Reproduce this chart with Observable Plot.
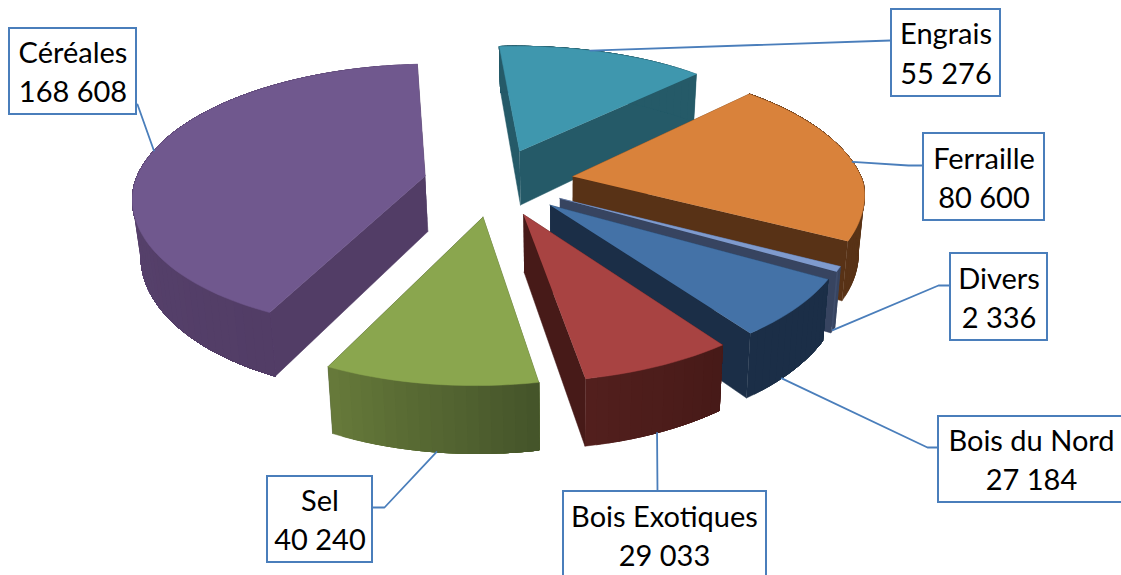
<!DOCTYPE html>
<html><head><meta charset="utf-8">
<style>html,body{margin:0;padding:0;background:#fff}svg{display:block}</style>
<script src="https://cdn.jsdelivr.net/npm/d3@7"></script>
<script src="https://cdn.jsdelivr.net/npm/@observablehq/plot@0.6"></script>
</head><body><div id="chart"></div>
<script>
// Data, clockwise from the top of the pie
const categories = ["Engrais","Ferraille","Divers","Bois du Nord","Bois Exotiques","Sel","Céréales"];
const tonnages   = [55276,80600,2336,27184,29033,40240,168608];
const valueLabels = ["55 276","80 600","2 336","27 184","29 033","40 240","168 608"];

// Styles per slice
const topColors  = ["#3f97ae","#d9823b","#7f9bce","#4472a7","#a84342","#8aa64e","#70588e"];
const cutColors  = ["#255a68","#583216","#374460","#1b2e47","#471a18","#46562a","#523d66"];
const wallFrom   = ["#255a68","#583216","#3f4d6b","#1b2e47","#521f1d","#66793a","#5e4876"];
const wallTo     = ["#255a68","#5c3417","#374460","#1b2e47","#471a18","#45552a","#523d66"];
const explodeBy  = [0.255,0.275,0.255,0.255,0.255,0.255,0.245];

// Label boxes: [x1,x2,y1,y2], line centres, box edge / elbow of each leader, where it meets the slice
const boxes = [[891,1000,9,96],[923,1044,133,220],[950,1047,253,340],[938,1130,416,502],[563,766,491,590],[267,372,476,562],[9,136,28,114]];
const lineY = [[34,74],[159,198],[279,318],[441,480],[517,556],[501,540],[53,92]];
const leaderElbows = [[[890,40]],[[923,165],[908,165]],[[950,285],[938,285]],[[938,447],[927,447]],[[657,491]],[[372,507],[384,507]],[[137,104]]];
const leaderFrac = [0.44,0.53,0.5,0.62,0.5,0.48,0.505];
const leaderLevel = [0,0,1,1,1,1,0];

// Projection of the tilted pie
const cam = {x0:494,y0:181.5,rx:290,ry:134,perspX:0.16,perspNear:0.14,perspFar:0.18,depth:56,rot:-4,shearA:6,shearB:10,xc:560,hShrink:0.02};
const rad = d => d*Math.PI/180;
const project = (X,Z,h) => {
  const sx = 1/(1-cam.perspX*Z), sy = 1/(1-(Z<0?cam.perspFar:cam.perspNear)*Z);
  const shear = Math.max(Z,0)*(cam.shearA+cam.shearB*X);
  const x = cam.x0+cam.rx*X*sx-shear;
  return [cam.xc+(x-cam.xc)*(1-cam.hShrink*h), cam.y0+cam.ry*Z*sy+h*cam.depth*sy];
};
const pie = d3.pie().sort(null).startAngle(rad(cam.rot)).endAngle(rad(cam.rot)+2*Math.PI)(tonnages);
const slices = pie.map((p,i)=>{
  const mid=(p.startAngle+p.endAngle)/2;
  const cx=explodeBy[i]*Math.sin(mid), cz=-explodeBy[i]*Math.cos(mid);
  const at=(t,h)=>project(cx+Math.sin(t),cz-Math.cos(t),h);
  const apex=h=>project(cx,cz,h);
  return {i,a0:p.startAngle,a1:p.endAngle,at,apex};
});

const polys=[]; let pid=0;
const addPoly=(pts,color)=>{const id=pid++;pts.forEach(([x,y])=>polys.push({id,x,y,color}));};
const order=[0,6,1,2,3,4,5];
for(const k of order){
  const s=slices[k];
  addPoly([s.apex(0),s.at(s.a0,0),s.at(s.a0,1),s.apex(1)],cutColors[k]);
  addPoly([s.apex(0),s.at(s.a1,0),s.at(s.a1,1),s.apex(1)],cutColors[k]);
  const n=Math.max(2,Math.ceil((s.a1-s.a0)/rad(2)));
  const mix=d3.interpolateRgb(wallFrom[k],wallTo[k]);
  // each wall strip runs to the far end of the arc, the next one paints over it: no seams
  for(let j=0;j<n;j++){
    const strip=[];
    for(let m=j;m<=n;m++) strip.push(s.at(s.a1-(s.a1-s.a0)*m/n,0));
    for(let m=n;m>=j;m--) strip.push(s.at(s.a1-(s.a1-s.a0)*m/n,1));
    addPoly(strip,mix(j/(n-1)));
  }
  const top=[s.apex(0)];
  for(let j=0;j<=n;j++) top.push(s.at(s.a0+(s.a1-s.a0)*j/n,0));
  addPoly(top,topColors[k]);
}

const leaders=[];
categories.forEach((c,i)=>{
  const s=slices[i];
  const pts=[...leaderElbows[i],s.at(s.a0+(s.a1-s.a0)*leaderFrac[i],leaderLevel[i])];
  pts.forEach(([x,y])=>leaders.push({c,x,y}));
});
const boxRows=categories.map((c,i)=>({c,x1:boxes[i][0],x2:boxes[i][1],y1:boxes[i][2],y2:boxes[i][3]}));
const textRows=categories.flatMap((c,i)=>{
  const cx=i===3?1031:i===4?664:(boxes[i][0]+boxes[i][1])/2;
  return [{t:c,x:cx,y:lineY[i][0]},{t:valueLabels[i],x:cx,y:lineY[i][1]}];
});

const chart=Plot.plot({
  width:1121,height:575,margin:0,
  x:{domain:[0,1121],range:[0,1121],axis:null},
  y:{domain:[0,575],range:[0,575],axis:null},
  color:{type:"identity"},
  style:{background:"#fff"},
  marks:[
    Plot.line(polys,{x:"x",y:"y",z:"id",fill:"color",stroke:"color",strokeWidth:0.5,curve:"linear"}),
    Plot.line(leaders,{x:"x",y:"y",z:"c",stroke:"#4a7ebb",strokeWidth:1.8,curve:"linear"}),
    Plot.rect(boxRows,{x1:"x1",x2:"x2",y1:"y1",y2:"y2",fill:"#fff",stroke:"#4a7ebb",strokeWidth:2}),
    Plot.text(textRows,{x:"x",y:"y",text:"t",fontSize:29,fontFamily:"Lato",fill:"#000",textAnchor:"middle",lineAnchor:"middle"})
  ]
});
document.getElementById("chart").append(chart);
</script></body></html>
